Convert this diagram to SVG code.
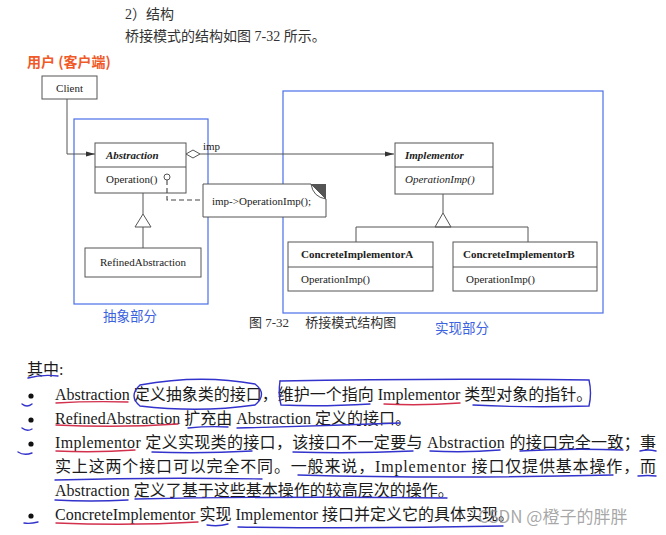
<svg xmlns="http://www.w3.org/2000/svg" width="666" height="535" viewBox="0 0 666 535">
<defs>
<style>
.bg{fill:#ffffff}
.box{fill:#ffffff;stroke:#555;stroke-width:1}
.ln{fill:none;stroke:#555;stroke-width:1}
.dash{fill:none;stroke:#444;stroke-width:1.1;stroke-dasharray:5 3}
.grp{fill:none;stroke:#4a6ee8;stroke-width:1.2}
.uml{font-family:"Liberation Serif","Noto Sans CJK SC",serif;font-size:11px;fill:#222}
.b{font-weight:bold}
.i{font-style:italic}
.cn{font-family:"Liberation Serif","Noto Sans CJK SC",serif;font-size:14px;fill:#333}
.body{font-family:"Liberation Serif","Noto Sans CJK SC",serif;font-size:16px;fill:#1a1a1a}
.red{font-family:"Noto Sans CJK SC",sans-serif;font-size:14px;font-weight:bold;fill:#f05a28}
.blue{font-family:"Noto Sans CJK SC",sans-serif;font-size:13.5px;fill:#3b63e0}
.cap{font-family:"Liberation Serif","Noto Sans CJK SC",serif;font-size:13px;fill:#333}
.hb{fill:none;stroke:#3232cc;stroke-width:1.4;stroke-linecap:round}
.hr{fill:none;stroke:#d2304c;stroke-width:1.4;stroke-linecap:round}
.wm{font-family:"Noto Sans CJK SC",sans-serif;font-size:17px;fill:#8a8a8a;fill-opacity:0.75}
</style>
<marker id="arr" markerWidth="9" markerHeight="6" refX="9" refY="3" orient="auto" markerUnits="userSpaceOnUse">
<path d="M0,0.5 L9,3 L0,5.5 Z" fill="#333"/>
</marker>
</defs>
<rect class="bg" x="0" y="0" width="666" height="535"/>

<text class="cn" x="125" y="19">2）结构</text>
<text class="cn" x="125" y="41">桥接模式的结构如图 7-32 所示。</text>
<text class="red" x="27" y="67">用户 (客户端)</text>

<g id="groups">
<rect id="abstraction-part" class="grp" x="74" y="119" width="134" height="185"/>
<rect id="implementation-part" class="grp" x="283" y="91" width="320" height="222"/>
</g>

<g id="client">
<rect class="box" x="42" y="76" width="55" height="23"/>
<text class="uml" x="69.5" y="92" text-anchor="middle">Client</text>
</g>

<g id="abstraction">
<rect class="box" x="95" y="143" width="91" height="50"/>
<line class="ln" x1="95" y1="167" x2="186" y2="167"/>
<text class="uml b i" x="106" y="159">Abstraction</text>
<text class="uml" x="106" y="183">Operation()</text>
</g>

<g id="note">
<path class="box" d="M203,184 H311 L326,199 V217 H203 Z"/>
<path d="M311,184 H326 V199 Z" fill="#555"/>
<path class="ln" d="M311,184 Q313,197 326,199"/>
<text class="uml" x="212" y="205">imp-&gt;OperationImp();</text>
</g>

<g id="refined-abstraction">
<rect class="box" x="85" y="248" width="116" height="29"/>
<text class="uml" x="143" y="266" text-anchor="middle" font-size="10.5">RefinedAbstraction</text>
</g>

<g id="implementor">
<rect class="box" x="395" y="143" width="98" height="51"/>
<line class="ln" x1="395" y1="167" x2="493" y2="167"/>
<text class="uml b i" x="405" y="159">Implementor</text>
<text class="uml i" x="405" y="183">OperationImp()</text>
</g>

<g id="concrete-a">
<rect class="box" x="288" y="242" width="145" height="49"/>
<line class="ln" x1="288" y1="267" x2="433" y2="267"/>
<text class="uml b" x="301" y="258">ConcreteImplementorA</text>
<text class="uml" x="301" y="283" font-size="10.5">OperationImp()</text>
</g>

<g id="concrete-b">
<rect class="box" x="453" y="242" width="144" height="49"/>
<line class="ln" x1="453" y1="267" x2="597" y2="267"/>
<text class="uml b" x="463" y="258">ConcreteImplementorB</text>
<text class="uml" x="466" y="283" font-size="10.5">OperationImp()</text>
</g>

<g id="connectors">
<path class="ln" d="M67,99 V154 H95" marker-end="url(#arr)"/>
<path class="ln" d="M186,154 L193,150 L200,154 L193,158 Z" fill="#fff"/>
<path class="ln" d="M200,154 H394" marker-end="url(#arr)"/>
<text class="uml" x="203" y="150">imp</text>
<path class="dash" d="M167,180 V200 H203"/>
<circle cx="167" cy="177" r="3" fill="#fff" stroke="#555"/>
<path class="ln" d="M143,193 V214"/>
<path class="ln" d="M143,214 L135,227 L151,227 Z" fill="#fff"/>
<path class="ln" d="M143,227 V248"/>
<path class="ln" d="M443,194 V213"/>
<path class="ln" d="M443,213 L435,227 L451,227 Z" fill="#fff"/>
<path class="ln" d="M356,242 V227 H528 V242"/>
</g>

<text class="blue" x="103" y="321">抽象部分</text>
<text class="cap" x="249" y="327">图 7-32　 桥接模式结构图</text>
<text class="blue" x="435" y="333">实现部分</text>

<g id="body">
<text class="body" x="27" y="375">其中:</text>
<circle cx="31" cy="396" r="2.6" fill="#111"/>
<circle cx="31" cy="420" r="2.6" fill="#111"/>
<circle cx="31" cy="444" r="2.6" fill="#111"/>
<circle cx="31" cy="516" r="2.6" fill="#111"/>
<text class="body" x="55" y="400">Abstraction 定义抽象类的接口，维护一个指向 Implementor 类型对象的指针。</text>
<text class="body" x="55" y="424">RefinedAbstraction 扩充由 Abstraction 定义的接口。</text>
<text class="body" x="55" y="448" textLength="601" lengthAdjust="spacing">Implementor 定义实现类的接口，该接口不一定要与 Abstraction 的接口完全一致；事</text>
<text class="body" x="55" y="472" textLength="601" lengthAdjust="spacing">实上这两个接口可以完全不同。一般来说，Implementor 接口仅提供基本操作，而</text>
<text class="body" x="55" y="496">Abstraction 定义了基于这些基本操作的较高层次的操作。</text>
<text class="body" x="55" y="520">ConcreteImplementor 实现 Implementor 接口并定义它的具体实现。</text>
</g>

<g id="annotations">
<path class="hb" d="M28,378 Q42,374 58,376"/>
<path class="hb" d="M22,404 Q27,408 32,404"/>
<path class="hb" d="M22,428 Q27,432 32,429"/>
<path class="hb" d="M18,452 Q24,456 32,453"/>
<path class="hb" d="M24,523 Q30,524 38,522"/>
<path class="hr" d="M56,403 Q90,401 128,402"/>
<path class="hb" d="M140,385 Q200,374 255,384 Q268,394 255,405 Q200,413 140,406 Q128,396 140,385 Z"/>
<path class="hb" d="M280,381 Q430,378 589,380 Q592,393 589,406 Q530,408 473,405"/>
<path class="hb" d="M280,381 Q278,394 281,405 Q320,407 370,404"/>
<path class="hr" d="M384,404 Q420,406 460,403"/>
<path class="hr" d="M56,425 Q120,428 178,424"/>
<path class="hb" d="M188,428 Q208,426 228,427"/>
<path class="hb" d="M237,428 Q320,426 400,423"/>
<path class="hr" d="M56,451 Q95,453 135,450"/>
<path class="hb" d="M152,452 Q200,454 252,451"/>
<path class="hb" d="M293,452 Q350,454 413,451"/>
<path class="hb" d="M430,451 Q465,453 500,450"/>
<path class="hb" d="M520,451 Q570,448 623,450"/>
<path class="hb" d="M640,451 Q648,449 656,451"/>
<path class="hb" d="M55,480 Q160,477 262,479"/>
<path class="hb" d="M298,475 Q450,479 613,475"/>
<path class="hb" d="M638,476 Q648,475 656,476"/>
<path class="hb" d="M55,500 Q90,502 128,500"/>
<path class="hb" d="M135,499 Q290,496 447,498"/>
<path class="hr" d="M56,523 Q130,526 198,522"/>
<path class="hb" d="M207,525 Q218,527 228,524"/>
<path class="hb" d="M238,527 Q370,529 503,526"/>
</g>

<text class="wm" x="478" y="523">CSDN @橙子的胖胖</text>
</svg>
